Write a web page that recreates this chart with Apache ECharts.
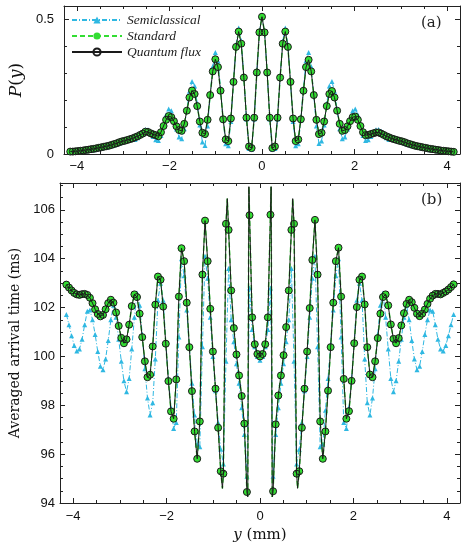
<!DOCTYPE html>
<html>
<head>
<meta charset="utf-8">
<script src="https://cdn.jsdelivr.net/npm/echarts@6/dist/echarts.min.js"></script>
<style>
html,body{margin:0;padding:0;background:#fff;}
#chart{width:468px;height:551px;}
</style>
</head>
<body>
<div id="chart"></div>
<script>
// ---- data ----
const yPositions = [
-4.144,-4.088,-4.032,-3.976,-3.92,-3.864,-3.808,-3.752,-3.696,-3.64,
-3.584,-3.528,-3.472,-3.416,-3.36,-3.304,-3.248,-3.192,-3.136,-3.08,
-3.024,-2.968,-2.912,-2.856,-2.8,-2.744,-2.688,-2.632,-2.576,-2.52,
-2.464,-2.408,-2.352,-2.296,-2.24,-2.184,-2.128,-2.072,-2.016,-1.96,
-1.904,-1.848,-1.792,-1.736,-1.68,-1.624,-1.568,-1.512,-1.456,-1.4,
-1.344,-1.288,-1.232,-1.176,-1.12,-1.064,-1.008,-0.952,-0.896,-0.84,
-0.784,-0.728,-0.672,-0.616,-0.56,-0.504,-0.448,-0.392,-0.336,-0.28,
-0.224,-0.168,-0.112,-0.056,0,
0.056,0.112,0.168,0.224,0.28,0.336,0.392,0.448,0.504,0.56,
0.616,0.672,0.728,0.784,0.84,0.896,0.952,1.008,1.064,1.12,
1.176,1.232,1.288,1.344,1.4,1.456,1.512,1.568,1.624,1.68,
1.736,1.792,1.848,1.904,1.96,2.016,2.072,2.128,2.184,2.24,
2.296,2.352,2.408,2.464,2.52,2.576,2.632,2.688,2.744,2.8,
2.856,2.912,2.968,3.024,3.08,3.136,3.192,3.248,3.304,3.36,
3.416,3.472,3.528,3.584,3.64,3.696,3.752,3.808,3.864,3.92,
3.976,4.032,4.088,4.144
];

// (a) probability P(y): Standard and Quantum flux coincide at the sampled points
const probStandardQuantum = [
0.009,0.009,0.01,0.011,0.012,0.013,0.015,0.016,0.018,0.019,
0.021,0.023,0.025,0.027,0.029,0.031,0.034,0.037,0.04,0.044,
0.047,0.049,0.052,0.055,0.058,0.062,0.066,0.071,0.076,0.083,
0.082,0.077,0.073,0.07,0.066,0.081,0.104,0.127,0.141,0.137,
0.122,0.103,0.089,0.086,0.112,0.161,0.21,0.236,0.223,0.178,
0.121,0.079,0.074,0.127,0.219,0.307,0.352,0.323,0.235,0.129,
0.054,0.048,0.132,0.268,0.398,0.455,0.41,0.284,0.135,0.028,
0.022,0.135,0.303,0.452,0.51,
0.452,0.303,0.135,0.022,0.028,0.135,0.284,0.41,0.455,0.398,
0.268,0.132,0.048,0.054,0.129,0.235,0.323,0.35,0.307,0.219,
0.127,0.074,0.079,0.121,0.178,0.223,0.234,0.21,0.161,0.112,
0.086,0.089,0.103,0.122,0.137,0.139,0.127,0.104,0.081,0.07,
0.071,0.074,0.077,0.08,0.08,0.076,0.071,0.066,0.062,0.058,
0.055,0.052,0.049,0.047,0.044,0.04,0.037,0.034,0.031,0.029,
0.027,0.025,0.023,0.021,0.019,0.018,0.016,0.015,0.013,0.012,
0.011,0.01,0.009,0.008
];
const probSemiclassical = [
0.006,0.007,0.008,0.009,0.01,0.011,0.012,0.013,0.015,0.016,
0.018,0.02,0.022,0.024,0.026,0.028,0.031,0.034,0.037,0.041,
0.045,0.047,0.05,0.053,0.054,0.054,0.06,0.073,0.085,0.091,
0.09,0.079,0.065,0.053,0.05,0.069,0.107,0.146,0.167,0.161,
0.131,0.093,0.063,0.057,0.094,0.164,0.233,0.269,0.253,0.189,
0.108,0.045,0.032,0.104,0.217,0.325,0.377,0.347,0.246,0.125,
0.038,0.031,0.121,0.267,0.407,0.468,0.421,0.287,0.13,0.02,
0.018,0.13,0.30,0.452,0.51,
0.452,0.30,0.13,0.018,0.02,0.13,0.287,0.421,0.468,0.407,
0.267,0.121,0.031,0.038,0.125,0.246,0.347,0.377,0.325,0.217,
0.104,0.039,0.048,0.108,0.189,0.253,0.269,0.233,0.164,0.094,
0.057,0.063,0.093,0.131,0.161,0.167,0.146,0.107,0.069,0.05,
0.053,0.065,0.079,0.09,0.091,0.085,0.073,0.06,0.054,0.054,
0.053,0.05,0.047,0.045,0.041,0.037,0.034,0.031,0.028,0.026,
0.024,0.022,0.02,0.018,0.016,0.015,0.013,0.012,0.011,0.01,
0.009,0.008,0.007,0.006
];

// (b) averaged arrival time (ms)
const timeStandardQuantum = [
102.94,102.82,102.7,102.6,102.54,102.52,102.55,102.56,102.52,102.4,
102.18,101.93,101.74,101.64,101.7,101.93,102.18,102.32,102.2,101.8,
101.25,100.76,100.54,100.7,101.3,102.06,102.54,102.43,101.75,100.79,
99.8,99.15,99.25,100.41,102.12,103.27,103.14,102.04,100.52,98.99,
97.75,97.45,99.06,102.45,104.43,103.9,102.2,100.38,98.58,96.93,
95.81,97.34,103.35,105.56,103.9,101.95,100.2,98.68,97.08,95.3,
95.2,105.43,105.18,102.7,101.16,100.08,99.22,98.38,97.25,94.45,
105.78,101.6,100.5,100.1,100.0,
100.1,100.5,101.6,105.8,94.48,97.22,98.4,99.22,100.05,101.2,
102.7,105.18,105.43,95.2,95.3,97.08,98.68,100.2,101.98,103.95,
105.59,103.35,97.34,95.81,96.93,98.6,100.38,102.2,103.9,104.45,
102.45,99.08,97.45,97.76,99.0,100.54,102.02,103.14,103.27,102.13,
100.38,99.26,99.15,99.8,100.75,101.75,102.43,102.54,102.09,101.31,
100.72,100.54,100.75,101.27,101.77,102.15,102.32,102.22,101.99,101.75,
101.65,101.75,101.92,102.15,102.36,102.49,102.56,102.56,102.54,102.6,
102.66,102.74,102.84,102.95
];
const timeSemiclassical = [
101.72,101.3,100.85,100.45,100.22,100.3,100.7,101.3,101.85,101.9,
101.5,100.9,100.2,99.6,99.45,99.9,100.65,101.5,102.1,101.6,
100.7,99.8,99.0,98.55,99.1,100.3,101.6,102.6,102.1,100.9,
99.5,98.3,97.6,98.1,99.9,102.3,103.0,102.3,100.6,99.1,
97.9,97.05,97.3,100.8,104.0,103.3,101.9,100.4,98.9,97.6,
96.4,96.3,100.4,104.1,103.2,101.6,100.0,98.6,97.3,96.2,
95.6,99.8,103.6,101.5,100.6,99.7,98.9,97.9,96.8,95.1,
102.8,101.1,100.4,100.0,99.84,
100.0,100.4,101.1,102.8,95.1,96.8,97.9,98.9,99.7,100.6,
101.5,103.6,99.8,95.6,96.2,97.3,98.6,100.0,101.6,103.2,
104.1,100.4,96.3,96.4,97.8,99.1,100.5,101.9,103.3,104.0,
100.8,97.3,97.05,97.9,99.1,100.6,102.3,103.0,102.3,99.9,
98.1,97.6,98.3,99.5,100.9,102.1,102.6,101.6,100.3,99.1,
98.55,99.0,99.8,100.7,101.6,102.1,101.5,100.65,99.9,99.45,
99.6,100.2,100.9,101.5,101.9,101.85,101.3,100.7,100.3,100.22,
100.45,100.85,101.3,101.72
];
// line extrema between samples (no marker drawn there)
const timePeakX = [-0.804,-0.70,-0.262,-0.238,0.238,0.262,0.70,0.804];
const timePeakY = [94.6,106.46,94.25,106.95,106.95,94.25,106.46,94.6];

const xMajorTicks = [-4,-2,0,2,4];
const xMinorTicks = [-3.5,-3,-2.5,-1.5,-1,-0.5,0.5,1,1.5,2.5,3,3.5];
const probMajorTicks = [0,0.5];
const probMinorTicks = [0.1,0.2,0.3,0.4];
const timeMajorTicks = [94,96,98,100,102,104,106];
const timeMinorTicks = [94.5,95,95.5,96.5,97,97.5,98.5,99,99.5,100.5,101,101.5,102.5,103,103.5,104.5,105,105.5,106.5,107];
const seriesNames = ['Semiclassical','Standard','Quantum flux'];

// ---- build ----
const pairs = (xs, ys) => xs.map((x, i) => [x, ys[i]]);
function withPeaks(xs, ys, px, py) {
  const pts = xs.map((x, i) => ({ value: [x, ys[i]] }));
  px.forEach((x, i) => pts.push({ value: [x, py[i]], symbol: 'none' }));
  pts.sort((a, b) => a.value[0] - b.value[0]);
  return pts;
}

const AX = '#222';
const LABEL_FONT = 'Liberation Sans';
const SERIF = 'DejaVu Serif';
const minusFmt = v => (v < 0 ? '\u2212' + Math.abs(v) : String(v));

function axisSet(dim, gridIndex, min, max, major, minor, opts) {
  const sides = dim === 'x' ? ['bottom', 'top'] : ['left', 'right'];
  const list = [];
  sides.forEach((pos, si) => {
    list.push(Object.assign({
      type: 'value', gridIndex, min, max, position: pos,
      axisLine: { show: true, onZero: false, lineStyle: { color: AX, width: 1 } },
      axisTick: { show: true, inside: true, length: 5, customValues: major, lineStyle: { color: AX, width: 1 } },
      axisLabel: si === 0 && opts.labels ? {
        show: true, customValues: major, formatter: minusFmt, margin: opts.margin,
        fontFamily: LABEL_FONT, fontSize: 13, color: '#111'
      } : { show: false },
      splitLine: { show: false }
    }, si === 0 ? (opts.name || {}) : {}));
    list.push({
      type: 'value', gridIndex, min, max, position: pos,
      axisLine: { show: false, onZero: false },
      axisTick: { show: true, inside: true, length: 3, customValues: minor, lineStyle: { color: AX, width: 1 } },
      axisLabel: { show: false },
      splitLine: { show: false }
    });
  });
  return list;
}

const xAxes = [].concat(
  axisSet('x', 0, -4.28, 4.28, xMajorTicks, xMinorTicks, { labels: true, margin: 6 }),
  axisSet('x', 1, -4.28, 4.28, xMajorTicks, xMinorTicks, { labels: true, margin: 7, name: {
    name: '{i|y} (mm)', nameLocation: 'middle', nameGap: 22,
    nameTextStyle: { fontFamily: SERIF, fontSize: 15, color: '#111',
      rich: { i: { fontFamily: SERIF, fontStyle: 'italic', fontSize: 15, color: '#111' } } }
  } })
);
const yAxes = [].concat(
  axisSet('y', 0, 0, 0.55, probMajorTicks, probMinorTicks, { labels: true, margin: 10, name: {
    name: '{i|P}({i|y})', nameLocation: 'middle', nameGap: 33, nameRotate: 90,
    nameTextStyle: { fontFamily: SERIF, fontSize: 17, color: '#111',
      rich: { i: { fontFamily: SERIF, fontStyle: 'italic', fontSize: 17, color: '#111' } } }
  } }),
  axisSet('y', 1, 94, 107.1, timeMajorTicks, timeMinorTicks, { labels: true, margin: 5, name: {
    name: 'Averaged arrival time (ms)', nameLocation: 'middle', nameGap: 37, nameRotate: 90,
    nameTextStyle: { fontFamily: SERIF, fontSize: 14, color: '#111' }
  } })
);

const GREEN = '#33dd33', CYAN = '#2fb8e2', BLACK = '#1a1a1a';
function panelSeries(gi, standardQuantum, semi, peaksX, peaksY) {
  const xi = gi * 4, yi = gi * 4;
  const lineData = peaksX ? withPeaks(yPositions, standardQuantum, peaksX, peaksY)
                          : pairs(yPositions, standardQuantum);
  return [
    { name: 'Semiclassical', type: 'line', xAxisIndex: xi, yAxisIndex: yi, data: pairs(yPositions, semi),
      symbol: 'triangle', symbolSize: 5, showAllSymbol: true, z: 2,
      itemStyle: { color: CYAN },
      lineStyle: { color: CYAN, width: 1, type: [5, 2, 1, 2] } },
    { name: 'Standard', type: 'line', xAxisIndex: xi, yAxisIndex: yi, data: lineData,
      symbol: 'circle', symbolSize: 7, showAllSymbol: true, z: 3,
      itemStyle: { color: GREEN },
      lineStyle: { color: GREEN, width: 1.5, type: [5, 3] } },
    { name: 'Quantum flux', type: 'line', xAxisIndex: xi, yAxisIndex: yi, data: lineData,
      symbol: 'circle', symbolSize: 7, showAllSymbol: true, z: 4,
      itemStyle: { color: 'rgba(0,0,0,0)', borderColor: BLACK, borderWidth: 1 },
      lineStyle: { color: BLACK, width: 1 } }
  ];
}

const chart = echarts.init(document.getElementById('chart'), null, { renderer: 'canvas' });
chart.setOption({
  animation: false,
  backgroundColor: '#fff',
  grid: [
    { left: 60, top: 6, width: 400, height: 148 },
    { left: 60, top: 183, width: 400, height: 320 }
  ],
  xAxis: xAxes,
  yAxis: yAxes,
  legend: {
    data: seriesNames, orient: 'vertical', left: 66, top: 8,
    itemWidth: 50, itemHeight: 9, itemGap: 2,
    textStyle: { fontFamily: 'Liberation Serif', fontStyle: 'italic', fontSize: 13.5, color: '#222' }
  },
  graphic: [
    { type: 'text', left: 421, top: 16, style: { text: '(a)', font: '15px "DejaVu Serif"', fill: '#222' } },
    { type: 'text', left: 421, top: 193, style: { text: '(b)', font: '15px "DejaVu Serif"', fill: '#222' } }
  ],
  series: [].concat(
    panelSeries(0, probStandardQuantum, probSemiclassical),
    panelSeries(1, timeStandardQuantum, timeSemiclassical, timePeakX, timePeakY)
  )
});
</script>
</body>
</html>
